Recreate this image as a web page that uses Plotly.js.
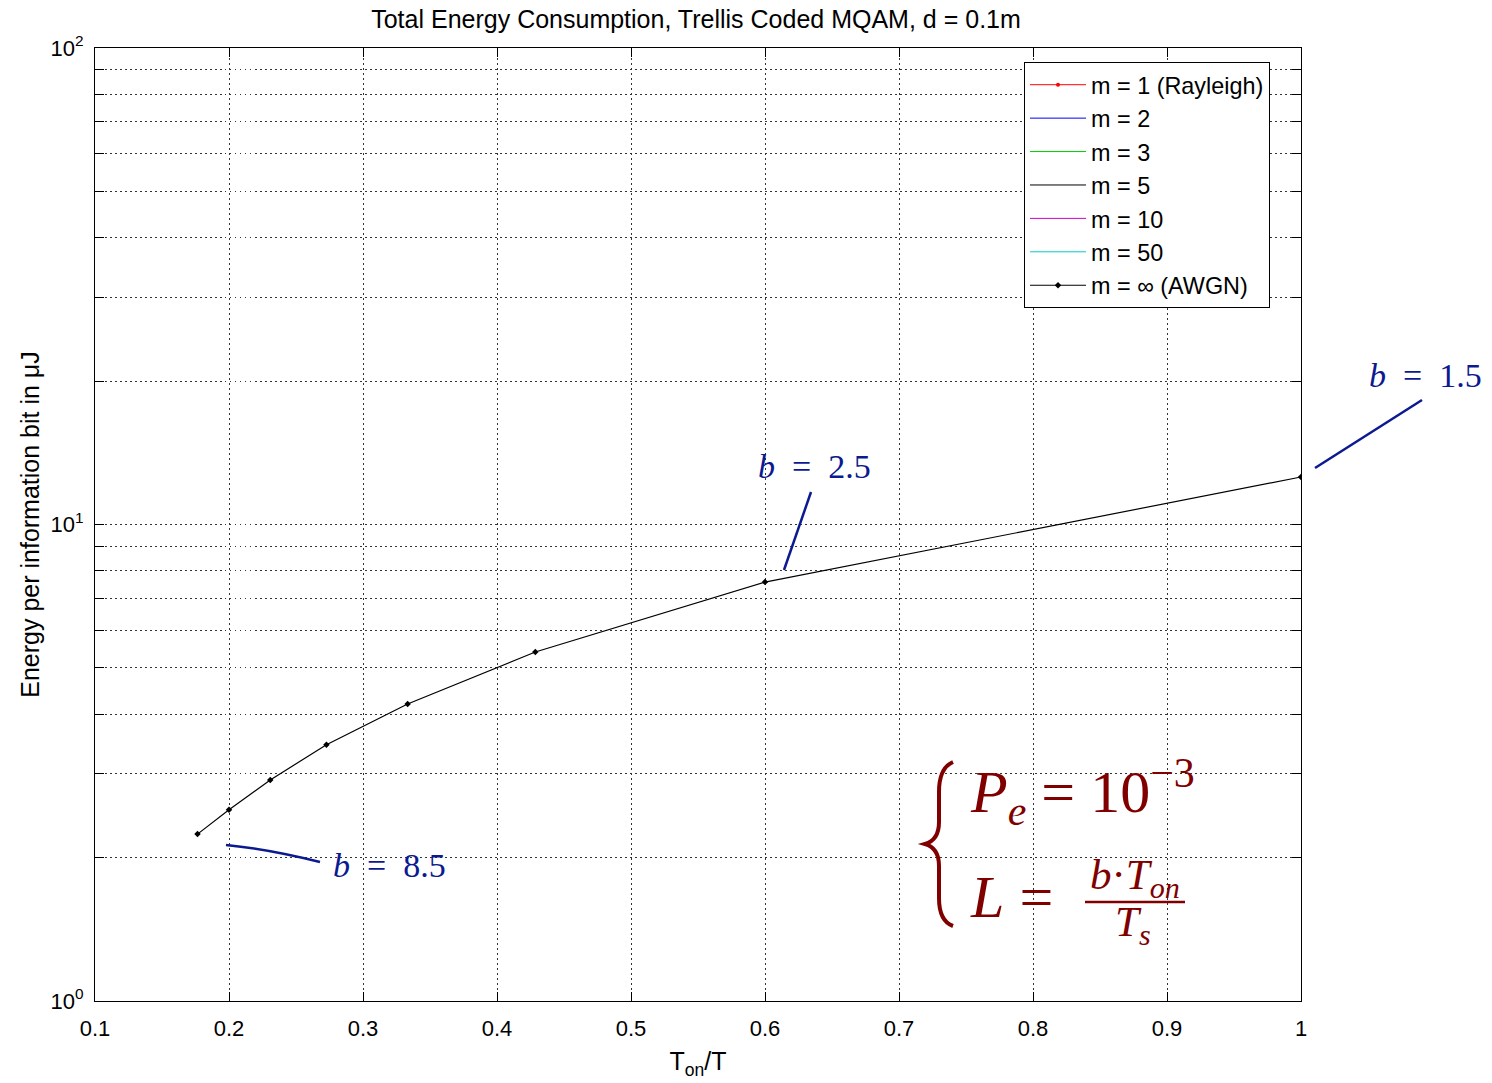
<!DOCTYPE html>
<html>
<head>
<meta charset="utf-8">
<script src="https://cdn.plot.ly/plotly-3.0.1.min.js"></script>
<style>html,body{margin:0;padding:0;background:#fff;}#chart{width:1492px;height:1083px;}</style>
</head>
<body>
<div id="chart"></div>
<script>
// ---- data ----
var bitsPerSymbol = [8.5, 7.5, 6.5, 5.5, 4.5, 3.5, 2.5, 1.5];
var onTimeRatio = [0.1765, 0.2, 0.2308, 0.2727, 0.3333, 0.4286, 0.6, 1.0];
var energyAWGN = [2.24, 2.52, 2.91, 3.45, 4.20, 5.40, 7.57, 12.58];
var seriesNames = ["m = 1 (Rayleigh)", "m = 2", "m = 3", "m = 5", "m = 10", "m = 50", "m = \u221e (AWGN)"];
var seriesColors = ["#ff0000", "#0000ff", "#00cc00", "#000000", "#cc00cc", "#00cccc", "#000000"];
var xTickVals = [0.1, 0.2, 0.3, 0.4, 0.5, 0.6, 0.7, 0.8, 0.9, 1.0];
var xTickText = ["0.1", "0.2", "0.3", "0.4", "0.5", "0.6", "0.7", "0.8", "0.9", "1"];
var yTickVals = [1, 10, 100];
var yTickText = ["10<sup>0</sup>", "10<sup>1</sup>", "10<sup>2</sup>"];
var yMinorVals = [2,3,4,5,6,7,8,9,20,30,40,50,60,70,80,90];
var labelledB = ["1.5", "2.5", "8.5"];

// ---- layout helpers (pixel -> paper) ----
var L0 = 95, R0 = 1301, T0 = 48, B0 = 1001;
function px(x) { return (x - L0) / (R0 - L0); }
function py(y) { return (B0 - y) / (B0 - T0); }

var traces = [];
for (var i = 0; i < seriesNames.length - 1; i++) {
  traces.push({
    x: [null], y: [null], name: seriesNames[i], type: 'scatter',
    mode: i === 0 ? 'lines+markers' : 'lines',
    line: {color: seriesColors[i], width: 1},
    marker: {color: seriesColors[i], size: 4}
  });
}
traces.push({
  x: onTimeRatio, y: energyAWGN, name: seriesNames[6], type: 'scatter',
  mode: 'lines+markers',
  line: {color: '#000000', width: 1.2},
  marker: {color: '#000000', size: 5, symbol: 'diamond'}
});

var navy = '#0b1a90';
var red = '#800000';
var serif = 'Liberation Serif, DejaVu Serif, serif';
var sp = '\u00a0';

function bLabel(b) { return '<i>b</i>' + sp + sp + '=' + sp + sp + b; }

function note(x, y, text, size, color, xa, ya) {
  return {x: px(x), y: py(y), xref: 'paper', yref: 'paper', text: text, showarrow: false,
          xanchor: xa || 'center', yanchor: ya || 'middle',
          font: {family: serif, size: size, color: color}};
}

var annotations = [
  note(1425, 375, bLabel(labelledB[0]), 34, navy),
  note(814, 467, bLabel(labelledB[1]), 34, navy),
  note(389, 865, bLabel(labelledB[2]), 34, navy),
  // formula
  note(968, 836, '<i>P</i><sub><i>e</i></sub>' + sp + '=' + sp + '10<sup>\u22123</sup>', 60, red, 'left', 'bottom'),
  note(968, 932, '<i>L</i>' + sp + '=', 60, red, 'left', 'bottom'),
  note(1135, 907, '<i>b</i>\u00b7<i>T</i><sub><i>on</i></sub>', 43, red, 'center', 'bottom'),
  note(1133, 954, '<i>T</i><sub><i>s</i></sub>', 43, red, 'center', 'bottom')
];

var shapes = [
  // leader lines
  {type: 'line', xref: 'paper', yref: 'paper', x0: px(1315), y0: py(468), x1: px(1422), y1: py(400), line: {color: navy, width: 2.5}},
  {type: 'line', xref: 'paper', yref: 'paper', x0: px(784), y0: py(570), x1: px(811), y1: py(492), line: {color: navy, width: 2.5}},
  {type: 'path', xref: 'paper', yref: 'paper',
   path: 'M ' + px(226) + ' ' + py(845) + ' Q ' + px(268) + ' ' + py(849) + ' ' + px(320) + ' ' + py(862),
   line: {color: navy, width: 2.5}},
  // fraction bar
  {type: 'line', xref: 'paper', yref: 'paper', x0: px(1085), x1: px(1185), y0: py(902), y1: py(902), line: {color: red, width: 2.5}},
  // brace
  {type: 'path', xref: 'paper', yref: 'paper',
   path: 'M ' + px(953) + ' ' + py(762) +
         ' Q ' + px(939) + ' ' + py(768) + ' ' + px(939) + ' ' + py(792) +
         ' L ' + px(939) + ' ' + py(822) +
         ' Q ' + px(939) + ' ' + py(840) + ' ' + px(925) + ' ' + py(844) +
         ' Q ' + px(939) + ' ' + py(848) + ' ' + px(939) + ' ' + py(866) +
         ' L ' + px(939) + ' ' + py(898) +
         ' Q ' + px(939) + ' ' + py(921) + ' ' + px(953) + ' ' + py(926),
   line: {color: red, width: 4}}
];

var axisFont = {family: 'Liberation Sans, Arial, sans-serif', size: 22, color: '#000'};
var gridDash = '1.5px,3.5px';

var layout = {
  width: 1492, height: 1083,
  margin: {l: L0, r: 1492 - R0, t: T0, b: 1083 - B0, pad: 0},
  paper_bgcolor: '#fff', plot_bgcolor: '#fff',
  font: {family: 'Liberation Sans, Arial, sans-serif', color: '#000'},
  title: {text: 'Total Energy Consumption, Trellis Coded MQAM, d = 0.1m', x: 0.4665, xanchor: 'center', y: 0.982, yanchor: 'middle', font: {size: 25, color: '#000'}},
  xaxis: {
    range: [0.1, 1.0], tickmode: 'array', tickvals: xTickVals, ticktext: xTickText,
    tickfont: axisFont, ticks: 'inside', ticklen: 9, tickcolor: '#000', ticklabelstandoff: 8,
    showline: true, linecolor: '#000', linewidth: 1, mirror: 'ticks',
    showgrid: true, gridcolor: '#333', griddash: gridDash, gridwidth: 1, zeroline: false,
    title: {text: 'T<sub>on</sub>/T', font: {size: 25}, standoff: 12}
  },
  yaxis: {
    type: 'log', range: [0, 2], tickmode: 'array', tickvals: yTickVals, ticktext: yTickText,
    tickfont: axisFont, ticks: 'inside', ticklen: 9, tickcolor: '#000', ticklabelstandoff: 6,
    showline: true, linecolor: '#000', linewidth: 1, mirror: 'ticks',
    showgrid: true, gridcolor: '#333', griddash: gridDash, gridwidth: 1, zeroline: false,
    minor: {tickmode: 'array', tickvals: yMinorVals, ticks: 'inside', ticklen: 9, tickcolor: '#000', showgrid: true, gridcolor: '#333', griddash: gridDash, gridwidth: 1},
    title: {text: 'Energy per information bit in \u03bcJ', font: {size: 25}, standoff: 3}
  },
  legend: {
    x: px(1024), y: py(62), xanchor: 'left', yanchor: 'top',
    bgcolor: '#fff', bordercolor: '#000', borderwidth: 1,
    font: {family: 'Liberation Sans, Arial, sans-serif', size: 23.4, color: '#000'},
    tracegroupgap: 0, itemwidth: 56
  },
  showlegend: true,
  annotations: annotations,
  shapes: shapes
};

Plotly.newPlot('chart', traces, layout, {displayModeBar: false, staticPlot: true});
</script>
</body>
</html>
